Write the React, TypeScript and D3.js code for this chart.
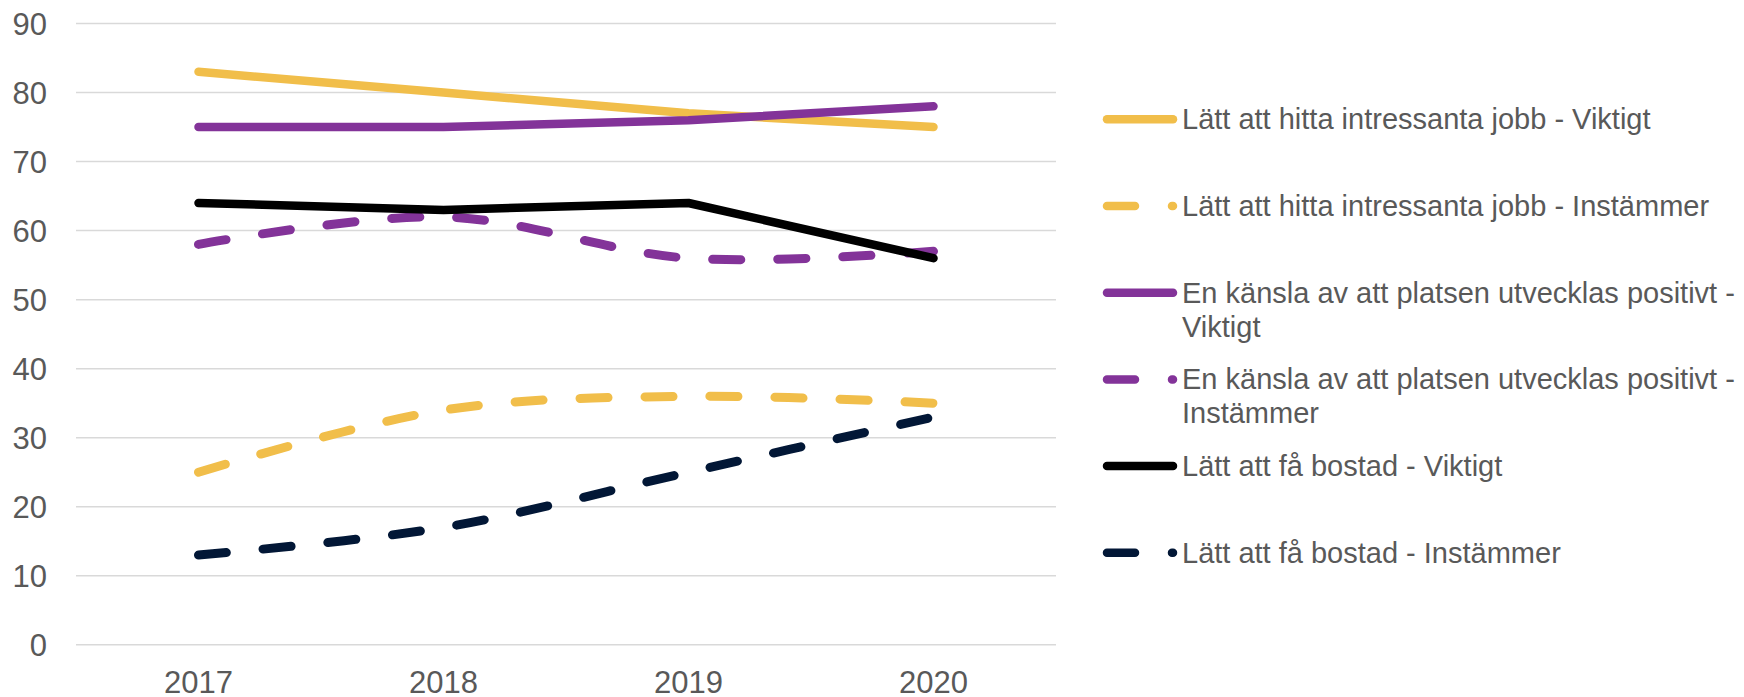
import React from "react";
import * as d3 from "d3";

const years = ["2017", "2018", "2019", "2020"];
const yTicks = [0, 10, 20, 30, 40, 50, 60, 70, 80, 90];

const jobbViktigt = [83, 80, 77, 75];
const jobbInstammer = [25, 34, 36, 35];
const platsViktigt = [75, 75, 76, 78];
const platsInstammer = [58, 62, 56, 57];
const bostadViktigt = [64, 63, 64, 56];
const bostadInstammer = [13, 17, 25, 33];

const legendLabels = [
  ["Lätt att hitta intressanta jobb - Viktigt"],
  ["Lätt att hitta intressanta jobb - Instämmer"],
  ["En känsla av att platsen utvecklas positivt -", "Viktigt"],
  ["En känsla av att platsen utvecklas positivt -", "Instämmer"],
  ["Lätt att få bostad - Viktigt"],
  ["Lätt att få bostad - Instämmer"],
];

const YELLOW = "#F1BE4A";
const PURPLE = "#833399";
const BLACK = "#000000";
const NAVY = "#021736";

const series = [
  { values: jobbViktigt, color: YELLOW, dashed: false },
  { values: jobbInstammer, color: YELLOW, dashed: true },
  { values: platsViktigt, color: PURPLE, dashed: false },
  { values: platsInstammer, color: PURPLE, dashed: true },
  { values: bostadViktigt, color: BLACK, dashed: false },
  { values: bostadInstammer, color: NAVY, dashed: true },
];

const W = 1744;
const H = 697;
const FONT = "'Liberation Sans', Arial, sans-serif";
const TEXT = "#595959";

export default function App() {
  const x = d3.scaleBand<string>().domain(years).range([76, 1056]);
  const cx = (yr: string) => (x(yr) as number) + x.bandwidth() / 2;
  const y = d3.scaleLinear().domain([0, 90]).range([644.8, 23.5]);

  const lineStraight = d3
    .line<number>()
    .x((_, i) => cx(years[i]))
    .y((v) => y(v));
  const lineSmooth = d3
    .line<number>()
    .x((_, i) => cx(years[i]))
    .y((v) => y(v))
    .curve(d3.curveCatmullRom.alpha(0.5));

  const legendY0 = 119.3;
  const legendStep = 86.7;

  return (
    <div style={{ position: "absolute", left: 0, top: 0 }}>
      <svg width={W} height={H} style={{ display: "block", background: "#fff" }}>
        {yTicks.map((t) => (
          <g key={t}>
            <line x1={76} x2={1056} y1={y(t)} y2={y(t)} stroke="#D9D9D9" strokeWidth={1.5} />
            <text
              x={47}
              y={y(t) + 11}
              textAnchor="end"
              fontFamily={FONT}
              fontSize={31}
              fill={TEXT}
            >
              {t}
            </text>
          </g>
        ))}
        {years.map((yr) => (
          <text
            key={yr}
            x={cx(yr)}
            y={692.5}
            textAnchor="middle"
            fontFamily={FONT}
            fontSize={31}
            fill={TEXT}
          >
            {yr}
          </text>
        ))}
        {series.map((s, i) => (
          <path
            key={i}
            d={(s.dashed ? lineSmooth : lineStraight)(s.values) || ""}
            fill="none"
            stroke={s.color}
            strokeWidth={s.dashed ? 9 : 8.5}
            strokeLinecap="round"
            strokeLinejoin="round"
            strokeDasharray={s.dashed ? "28 37" : undefined}
          />
        ))}
        {series.map((s, i) => {
          const ly = legendY0 + i * legendStep;
          return (
            <g key={"lg" + i}>
              <line
                x1={1107}
                x2={1173}
                y1={ly}
                y2={ly}
                stroke={s.color}
                strokeWidth={8.5}
                strokeLinecap="round"
                strokeDasharray={s.dashed ? "28 37" : undefined}
              />
              {legendLabels[i].map((ln, j) => (
                <text
                  key={j}
                  x={1182}
                  y={ly + 10 + j * 34}
                  fontFamily={FONT}
                  fontSize={29}
                  fill={TEXT}
                >
                  {ln}
                </text>
              ))}
            </g>
          );
        })}
      </svg>
    </div>
  );
}
